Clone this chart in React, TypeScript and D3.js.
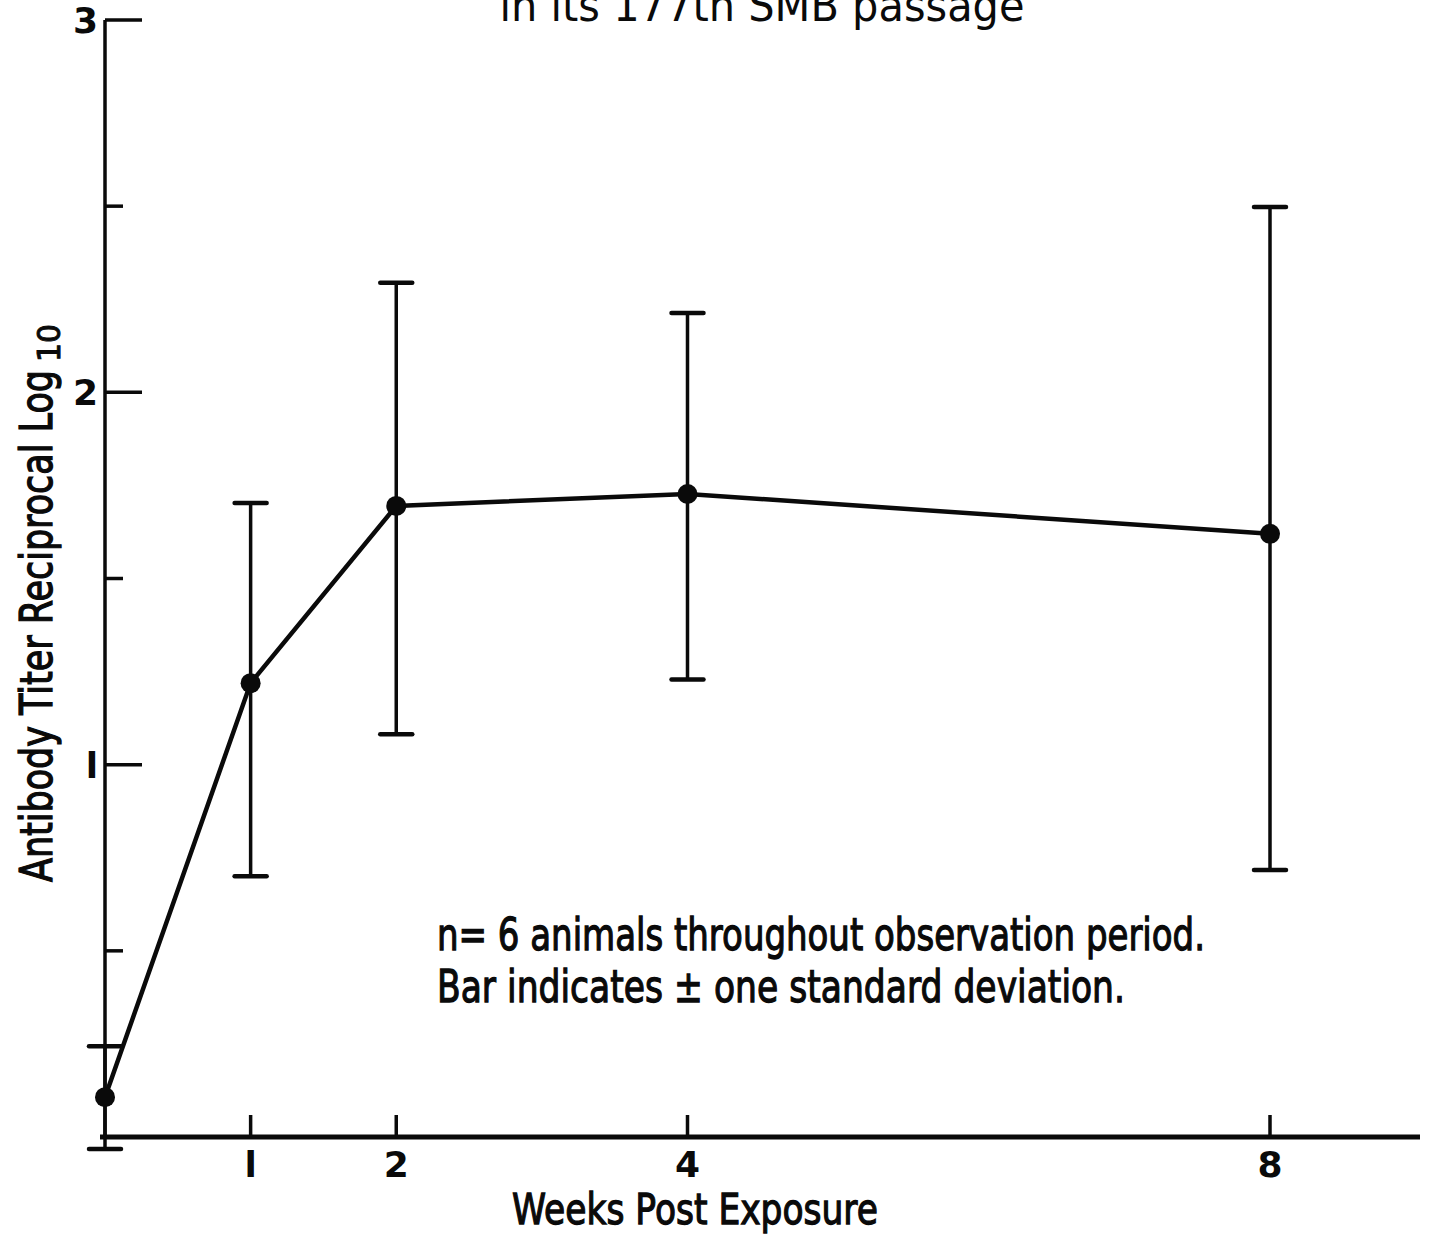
import React from "react";
import * as d3 from "d3";

const weeks = [0, 1, 2, 4, 8];
const meanTiter = [0.107, 1.219, 1.695, 1.727, 1.62];
const upperTiter = [0.244, 1.703, 2.294, 2.213, 2.498];
const lowerTiter = [-0.032, 0.7, 1.082, 1.229, 0.717];
const xTickValues = [1, 2, 4, 8];
const yMajorTicks = [1, 2, 3];
const yMinorTicks = [0.5, 1.5, 2.5];

const titleText = "in its 177th SMB passage";
const xLabel = "Weeks Post Exposure";
const yLabel = "Antibody Titer Reciprocal Log";
const noteLines = [
  "n= 6 animals throughout observation period.",
  "Bar indicates \u00b1 one standard deviation.",
];

const W = 1432;
const H = 1234;
const FONT = "'DejaVu Sans', 'Liberation Sans', sans-serif";

export default function App() {
  const x = d3.scaleLinear().domain([0, 8]).range([105, 1270]);
  const y = d3.scaleLinear().domain([0, 3]).range([1137, 20]);
  const line = d3
    .line<number>()
    .x((_, i) => x(weeks[i]))
    .y((d) => y(d));

  const ink = "#0a0a0a";

  return (
    <svg
      width={W}
      height={H}
      style={{ position: "absolute", left: 0, top: 0, background: "#fff" }}
    >
      <rect x={0} y={0} width={W} height={H} fill="#fff" />
      {/* title (cut off at top) */}
      <text
        x={762}
        y={21}
        fontFamily={FONT}
        fontSize={44}
        textAnchor="middle"
        textLength={525}
        lengthAdjust="spacingAndGlyphs"
        fill={ink}
      >
        {titleText}
      </text>

      {/* y axis */}
      <line x1={105} x2={105} y1={y(3)} y2={y(0)} stroke={ink} strokeWidth={3.5} />
      {yMajorTicks.map((t) => (
        <g key={"M" + t}>
          <line x1={105} x2={142} y1={y(t)} y2={y(t)} stroke={ink} strokeWidth={3.5} />
          <text
            x={98}
            y={y(t) + 13}
            fontFamily={FONT}
            fontSize={36}
            fontWeight="bold"
            textAnchor="end"
            fill={ink}
          >
            {t === 1 ? "l" : String(t)}
          </text>
        </g>
      ))}
      {yMinorTicks.map((t) => (
        <line key={"m" + t} x1={105} x2={123} y1={y(t)} y2={y(t)} stroke={ink} strokeWidth={3.5} />
      ))}

      {/* x axis */}
      <line x1={100} x2={1420} y1={y(0)} y2={y(0)} stroke={ink} strokeWidth={5} />
      {xTickValues.map((t) => (
        <g key={"x" + t}>
          <line x1={x(t)} x2={x(t)} y1={y(0)} y2={y(0) - 22} stroke={ink} strokeWidth={3.5} />
          <text
            x={x(t)}
            y={1177}
            fontFamily={FONT}
            fontSize={36}
            fontWeight="bold"
            textAnchor="middle"
            fill={ink}
          >
            {t === 1 ? "l" : String(t)}
          </text>
        </g>
      ))}

      {/* axis labels */}
      <text
        x={512}
        y={1224}
        fontFamily={FONT}
        fontSize={43}
        textLength={366}
        lengthAdjust="spacingAndGlyphs"
        fill={ink}
        stroke={ink}
        strokeWidth={1.3}
      >
        {xLabel}
      </text>
      <g transform="translate(52,882) rotate(-90)">
        <text
          x={0}
          y={0}
          fontFamily={FONT}
          fontSize={44}
          textLength={512}
          lengthAdjust="spacingAndGlyphs"
          fill={ink}
          stroke={ink}
          strokeWidth={1.3}
        >
          {yLabel}
        </text>
        <text
          x={520}
          y={8}
          fontFamily={FONT}
          fontSize={32}
          textLength={38}
          lengthAdjust="spacingAndGlyphs"
          fill={ink}
          stroke={ink}
          strokeWidth={1}
        >
          10
        </text>
      </g>

      {/* error bars */}
      {weeks.map((w, i) => (
        <g key={"e" + w}>
          <line
            x1={x(w)}
            x2={x(w)}
            y1={y(upperTiter[i])}
            y2={y(lowerTiter[i])}
            stroke={ink}
            strokeWidth={3.5}
          />
          <line
            x1={x(w) - 16}
            x2={x(w) + 16}
            y1={y(upperTiter[i])}
            y2={y(upperTiter[i])}
            stroke={ink}
            strokeWidth={4.5}
            strokeLinecap="round"
          />
          <line
            x1={x(w) - 16}
            x2={x(w) + 16}
            y1={y(lowerTiter[i])}
            y2={y(lowerTiter[i])}
            stroke={ink}
            strokeWidth={4.5}
            strokeLinecap="round"
          />
        </g>
      ))}

      {/* mean line */}
      <path d={line(meanTiter) || ""} fill="none" stroke={ink} strokeWidth={4.5} />
      {weeks.map((w, i) => (
        <circle key={"p" + w} cx={x(w)} cy={y(meanTiter[i])} r={10} fill={ink} />
      ))}

      {/* note */}
      {noteLines.map((t, i) => (
        <text
          key={"n" + i}
          x={437}
          y={950 + i * 52}
          fontFamily={FONT}
          fontSize={45}
          textLength={i === 0 ? 768 : 688}
          lengthAdjust="spacingAndGlyphs"
          fill={ink}
          stroke={ink}
          strokeWidth={1.3}
        >
          {t}
        </text>
      ))}
    </svg>
  );
}
